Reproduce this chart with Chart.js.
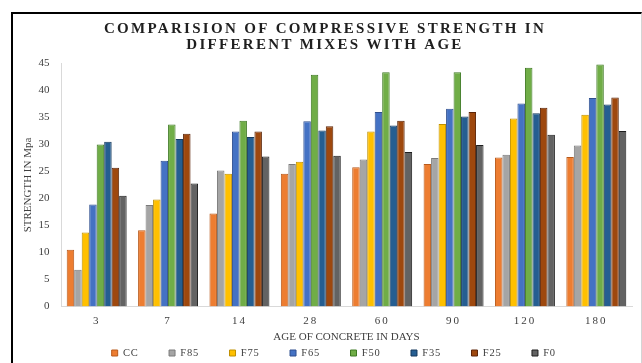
<!DOCTYPE html>
<html>
<head>
<meta charset="utf-8">
<title>Compressive strength with age</title>
<script src="https://cdn.jsdelivr.net/npm/chart.js@4"></script>
<style>
  html, body { margin: 0; padding: 0; background: #fff; }
  #wrap { position: relative; width: 642px; height: 363px; overflow: hidden; }
  #frame {
    position: absolute; left: 11px; top: 12px; right: 0; bottom: -10px;
    border-left: 2px solid #000; border-top: 2px solid #000; border-right: 1px solid #d4d4d4;
  }
  #strengthChart { position: absolute; left: 0; top: 0; }
</style>
</head>
<body>
<div id="wrap">
  <div id="frame"></div>
  <canvas id="strengthChart" width="642" height="363"></canvas>
</div>
<script>
const ages = ["3", "7", "14", "28", "60", "90", "120", "180"];
const yTicks = [0, 5, 10, 15, 20, 25, 30, 35, 40, 45];

// compressive strength (MPa) per mix
const cc  = [10.5, 14.1, 17.2, 24.6, 25.8, 26.4, 27.6, 27.7];
const f85 = [6.8, 18.8, 25.2, 26.4, 27.2, 27.5, 28.1, 29.8];
const f75 = [13.7, 19.8, 24.6, 26.8, 32.4, 33.8, 34.8, 35.5];
const f65 = [18.9, 27.0, 32.4, 34.3, 36.0, 36.6, 37.6, 38.6];
const f50 = [30.0, 33.7, 34.4, 42.9, 43.4, 43.4, 44.2, 44.8];
const f35 = [30.5, 31.0, 31.4, 32.6, 33.5, 35.2, 35.8, 37.4];
const f25 = [25.7, 32.0, 32.4, 33.4, 34.4, 36.0, 36.8, 38.7];
const f0  = [20.5, 22.8, 27.8, 27.9, 28.6, 29.9, 31.8, 32.5];

const mixes = ["CC", "F85", "F75", "F65", "F50", "F35", "F25", "F0"];
const mixValues = [cc, f85, f75, f65, f50, f35, f25, f0];
const fills   = ["#ED7D31", "#A5A5A5", "#FFC000", "#4472C4", "#70AD47", "#255E91", "#9E480E", "#636363"];
const borders = ["#B85A1B", "#7A7A7A", "#BF9000", "#2F4F8F", "#3F7A24", "#16395C", "#5C2508", "#1E1E1E"];

const serif = "'Liberation Serif', 'Times New Roman', serif";
Chart.defaults.font.family = serif;
Chart.defaults.color = "#404040";

// wrap a draw method: letter-spaced text, optionally shifted up/down
function wrapDraw(box, method, spacing, dy = 0) {
  if (!box || box["_wrapped_" + method]) return;
  const orig = box[method];
  box[method] = function (...args) {
    this.ctx.save();
    this.ctx.letterSpacing = spacing + "px";
    this.ctx.translate(0, dy);
    orig.apply(this, args);
    this.ctx.restore();
  };
  box["_wrapped_" + method] = true;
}

const textTweaks = {
  id: "textTweaks",
  afterLayout(chart) {
    wrapDraw(chart.titleBlock, "draw", 2.3);
    wrapDraw(chart.scales.x, "drawLabels", 2);
    // legend padding also spaces the items apart, so pull the row back up
    wrapDraw(chart.legend, "draw", 0.8, -26.35);
  }
};

const datasets = mixes.map((name, i) => ({
  label: name,
  data: mixValues[i],
  backgroundColor: fills[i],
  borderColor: borders[i],
  borderWidth: 1,
  barPercentage: 1,
  categoryPercentage: 0.84
}));

new Chart(document.getElementById("strengthChart"), {
  type: "bar",
  data: { labels: ages, datasets },
  plugins: [textTweaks],
  options: {
    responsive: false,
    animation: false,
    layout: { padding: { top: 0, left: 18, right: 10, bottom: -31.6 } },
    plugins: {
      title: {
        display: true,
        text: ["COMPARISION OF COMPRESSIVE STRENGTH IN", "DIFFERENT MIXES WITH AGE"],
        color: "#1f1f1f",
        font: { size: 15, weight: "bold", lineHeight: 1.1 },
        padding: { top: 20.75, bottom: 9.75 }
      },
      legend: {
        position: "bottom",
        labels: {
          boxWidth: 6,
          boxHeight: 6,
          padding: 30.5,
          color: "#404040",
          font: { size: 10.5 }
        }
      },
      tooltip: { enabled: false }
    },
    scales: {
      x: {
        grid: { display: false, drawTicks: false },
        border: { display: true, color: "#d9d9d9", width: 1 },
        ticks: { padding: 8.5, color: "#404040", font: { size: 11 } },
        title: {
          display: true,
          text: "AGE OF CONCRETE IN DAYS",
          color: "#404040",
          font: { size: 11 },
          padding: { top: -6.3, bottom: 0 }
        }
      },
      y: {
        min: 0,
        max: 45,
        afterBuildTicks(scale) {
          scale.ticks = yTicks.map(v => ({ value: v }));
        },
        afterFit(scale) {
          scale.width = 43;
        },
        grid: { display: false, drawTicks: false },
        border: { display: true, color: "#d9d9d9", width: 1 },
        ticks: { padding: 11.5, color: "#404040", font: { size: 11 } },
        title: {
          display: true,
          text: "STRENGTH IN Mpa",
          color: "#404040",
          font: { size: 11 },
          padding: { top: 4, bottom: 4 }
        }
      }
    }
  }
});
</script>
</body>
</html>
